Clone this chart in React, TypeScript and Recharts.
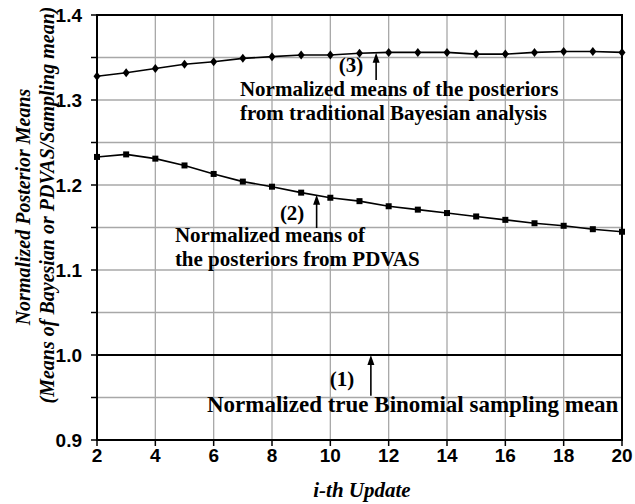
import React from 'react';
import {
  LineChart,
  Line,
  XAxis,
  YAxis,
  CartesianGrid,
  ReferenceArea,
  ReferenceLine,
  ReferenceDot,
} from 'recharts';

// i-th update (x axis)
const updates = [2, 3, 4, 5, 6, 7, 8, 9, 10, 11, 12, 13, 14, 15, 16, 17, 18, 19, 20];

// (3) normalized posterior means, traditional Bayesian analysis
const bayesMeans = [
  1.328, 1.332, 1.337, 1.342, 1.345, 1.349, 1.351, 1.353, 1.353, 1.355,
  1.356, 1.356, 1.356, 1.354, 1.354, 1.356, 1.357, 1.357, 1.356,
];

// (2) normalized posterior means, PDVAS
const pdvasMeans = [
  1.233, 1.236, 1.231, 1.223, 1.213, 1.204, 1.198, 1.191, 1.185, 1.181,
  1.175, 1.171, 1.167, 1.163, 1.159, 1.155, 1.152, 1.148, 1.145,
];

// (1) normalized true binomial sampling mean
const trueMeans = [
  1.0, 1.0, 1.0, 1.0, 1.0, 1.0, 1.0, 1.0, 1.0, 1.0,
  1.0, 1.0, 1.0, 1.0, 1.0, 1.0, 1.0, 1.0, 1.0,
];

const xTicks = [2, 4, 6, 8, 10, 12, 14, 16, 18, 20];
const yTicks = [0.9, 0.95, 1.0, 1.05, 1.1, 1.15, 1.2, 1.25, 1.3, 1.35, 1.4];

const data = updates.map((i, k) => ({
  i,
  bayes: bayesMeans[k],
  pdvas: pdvasMeans[k],
  truth: trueMeans[k],
}));

const SERIF = '"Liberation Serif", "Times New Roman", serif';
const SANS = '"Liberation Sans", Arial, sans-serif';

const yLabel = (v: number) =>
  Math.abs(v * 10 - Math.round(v * 10)) < 1e-6 ? v.toFixed(1) : '';

const Diamond = (props: any) => {
  const { cx, cy } = props;
  if (cx == null || cy == null) return null;
  return (
    <polygon
      points={`${cx},${cy - 4.5} ${cx + 3.5},${cy} ${cx},${cy + 4.5} ${cx - 3.5},${cy}`}
      fill="#000"
    />
  );
};

const Square = (props: any) => {
  const { cx, cy } = props;
  if (cx == null || cy == null) return null;
  return <rect x={cx - 3} y={cy - 3} width={6} height={6} fill="#000" />;
};

// upward arrow from (x1,y1) to tip (x2,y2)
const Arrow = (props: any) => {
  const { x1, y1, x2, y2 } = props;
  return (
    <g>
      <line x1={x1} y1={y1} x2={x2} y2={y2 + 8} stroke="#000" strokeWidth={1.6} />
      <polygon points={`${x2},${y2} ${x2 - 3.5},${y2 + 10} ${x2 + 3.5},${y2 + 10}`} fill="#000" />
    </g>
  );
};

const note =
  (lines: string[], size: number, anchor: 'start' | 'middle' = 'start', lead = 24) =>
  (props: any) => (
    <text
      x={props.cx}
      y={props.cy}
      textAnchor={anchor}
      fontFamily={SERIF}
      fontWeight="bold"
      fontSize={size}
      fill="#000"
    >
      {lines.map((t, k) => (
        <tspan key={k} x={props.cx} dy={k === 0 ? 0 : lead}>
          {t}
        </tspan>
      ))}
    </text>
  );

const YTitle = () => (
  <g fontFamily={SERIF} fontWeight="bold" fontStyle="italic" fontSize={20} fill="#000">
    <text x={0} y={0} textAnchor="middle" transform="translate(30,207) rotate(-90)">
      Normalized Posterior Means
    </text>
    <text x={0} y={0} textAnchor="middle" transform="translate(54,205) rotate(-90)">
      (Means of Bayesian or PDVAS/Sampling mean)
    </text>
  </g>
);

const XTitle = () => (
  <text
    x={362}
    y={497}
    textAnchor="middle"
    fontFamily={SERIF}
    fontWeight="bold"
    fontStyle="italic"
    fontSize={21}
    fill="#000"
  >
    i-th Update
  </text>
);

export default function App() {
  return (
    <div style={{ position: 'absolute', left: 0, top: 0, background: '#fff' }}>
      <LineChart
        width={635}
        height={504}
        data={data}
        margin={{ top: 15, right: 13, left: 0, bottom: 0 }}
      >
        <CartesianGrid stroke="#a8a8a8" strokeWidth={1.3} />
        <XAxis
          dataKey="i"
          type="number"
          domain={[2, 20]}
          ticks={xTicks}
          height={64}
          tickSize={6}
          tickMargin={3}
          stroke="#000"
          tickLine={{ stroke: '#000', strokeWidth: 1.5 }}
          tick={{ fill: '#000', fontFamily: SANS, fontWeight: 'bold', fontSize: 19 }}
          label={<XTitle />}
        />
        <YAxis
          type="number"
          domain={[0.9, 1.4]}
          ticks={yTicks}
          width={97}
          tickSize={6}
          tickMargin={9}
          interval={0}
          stroke="#000"
          tickFormatter={yLabel}
          tickLine={{ stroke: '#000', strokeWidth: 1.5 }}
          tick={{ fill: '#000', fontFamily: SANS, fontWeight: 'bold', fontSize: 19 }}
          label={<YTitle />}
        />
        <ReferenceArea
          x1={2}
          x2={20}
          y1={0.9}
          y2={1.4}
          fill="none"
          stroke="#000"
          strokeWidth={2}
        />
        <Line
          dataKey="truth"
          stroke="#000"
          strokeWidth={2}
          dot={false}
          isAnimationActive={false}
        />
        <Line
          dataKey="pdvas"
          stroke="#000"
          strokeWidth={1.6}
          dot={<Square />}
          isAnimationActive={false}
        />
        <Line
          dataKey="bayes"
          stroke="#000"
          strokeWidth={1.6}
          dot={<Diamond />}
          isAnimationActive={false}
        />

        <ReferenceLine segment={[{ x: 11.57, y: 1.3235 }, { x: 11.57, y: 1.3555 }]} shape={Arrow} />
        <ReferenceDot x={10.71} y={1.333} r={0} shape={note(['(3)'], 21, 'middle')} />
        <ReferenceDot
          x={6.9}
          y={1.305}
          r={0}
          shape={note(['Normalized means of the posteriors', 'from traditional Bayesian analysis'], 21)}
        />

        <ReferenceLine segment={[{ x: 9.53, y: 1.1494 }, { x: 9.53, y: 1.1885 }]} shape={Arrow} />
        <ReferenceDot x={8.69} y={1.1588} r={0} shape={note(['(2)'], 21, 'middle')} />
        <ReferenceDot
          x={4.67}
          y={1.1329}
          r={0}
          shape={note(['Normalized means of', 'the posteriors from PDVAS'], 21)}
        />

        <ReferenceLine segment={[{ x: 11.39, y: 0.952 }, { x: 11.39, y: 1.0 }]} shape={Arrow} />
        <ReferenceDot x={10.4} y={0.9635} r={0} shape={note(['(1)'], 21, 'middle')} />
        <ReferenceDot
          x={5.77}
          y={0.9329}
          r={0}
          shape={note(['Normalized true Binomial sampling mean'], 23)}
        />
      </LineChart>
    </div>
  );
}
